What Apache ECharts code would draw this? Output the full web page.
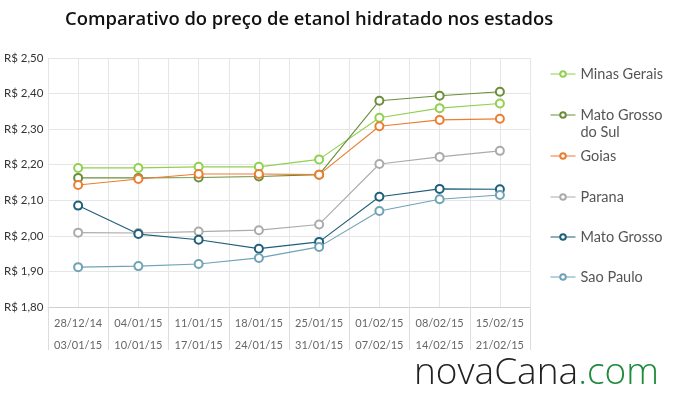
<!DOCTYPE html>
<html>
<head>
<meta charset="utf-8">
<script src="https://cdn.jsdelivr.net/npm/echarts@6/dist/echarts.min.js"></script>
<style>
  html, body { margin: 0; padding: 0; background: #fff; }
  #chart { width: 684px; height: 406px; }
</style>
</head>
<body>
<div id="chart"></div>
<script>
// semanas (início / fim)
var weekStart = ['28/12/14', '04/01/15', '11/01/15', '18/01/15', '25/01/15', '01/02/15', '08/02/15', '15/02/15'];
var weekEnd = ['03/01/15', '10/01/15', '17/01/15', '24/01/15', '31/01/15', '07/02/15', '14/02/15', '21/02/15'];

var minasGerais = [2.191, 2.191, 2.194, 2.194, 2.215, 2.332, 2.359, 2.372];
var matoGrossoDoSul = [2.163, 2.163, 2.164, 2.167, 2.172, 2.380, 2.394, 2.405];
var goias = [2.143, 2.160, 2.174, 2.174, 2.172, 2.308, 2.326, 2.329];
var parana = [2.009, 2.008, 2.012, 2.016, 2.032, 2.202, 2.222, 2.239];
var matoGrosso = [2.085, 2.005, 1.989, 1.964, 1.983, 2.110, 2.132, 2.131];
var saoPaulo = [1.912, 1.915, 1.921, 1.938, 1.969, 2.070, 2.103, 2.115];

var yMin = 1.8, yMax = 2.5, yStep = 0.1;

var chart = echarts.init(document.getElementById('chart'));

var categories = weekStart.map(function (s, i) { return s + '\n' + weekEnd[i]; });

function serie(name, data, color) {
  return {
    name: name,
    type: 'line',
    data: data,
    symbol: 'emptyCircle',
    symbolSize: 8,
    lineStyle: { width: 1.1, color: color },
    itemStyle: { color: color, borderWidth: 1.1 },
    emphasis: { disabled: true }
  };
}

var names = ['Minas Gerais', 'Mato Grosso do Sul', 'Goias', 'Parana', 'Mato Grosso', 'Sao Paulo'];
var legendTops = [65.5, 89.5, 147.5, 188.5, 228.5, 268.5];

var legends = names.map(function (n, i) {
  var lg = {
    data: [n],
    left: 550,
    top: legendTops[i],
    padding: 0,
    itemWidth: 25,
    itemHeight: 7,
    selectedMode: false,
    itemStyle: { borderWidth: 1 },
    lineStyle: { width: 1 },
    textStyle: { color: '#555', fontSize: 14.5, fontFamily: 'Lato', lineHeight: 17 }
  };
  if (n === 'Mato Grosso do Sul') {
    // linha vazia em cima para o ícone ficar alinhado com a primeira linha
    lg.formatter = function () { return '\u00a0\nMato Grosso\ndo Sul'; };
  }
  return lg;
});

var option = {
  animation: false,
  title: {
    text: 'Comparativo do preço de etanol hidratado nos estados',
    left: 60,
    top: 6,
    textStyle: { color: '#111', fontSize: 18.4, fontWeight: 600, fontFamily: 'Open Sans' }
  },
  legend: legends,
  grid: { left: 48, right: 154, top: 58, bottom: 99 },
  xAxis: [
    {
      type: 'category',
      data: categories,
      boundaryGap: true,
      axisLine: { lineStyle: { color: '#cfcfcf' } },
      axisTick: { show: true, interval: 0, length: 43, lineStyle: { color: '#dcdcdc' } },
      axisLabel: { color: '#666', fontSize: 11, fontFamily: 'Lato', lineHeight: 22, margin: 5, interval: 0 },
      splitLine: { show: false }
    },
    {
      // linhas verticais de meia semana
      type: 'value',
      min: 0,
      max: 16,
      interval: 1,
      position: 'top',
      axisLine: { show: false },
      axisTick: { show: false },
      axisLabel: { show: false },
      splitLine: { show: true, lineStyle: { color: '#e6e6e6' } }
    }
  ],
  yAxis: {
    type: 'value',
    min: yMin,
    max: yMax,
    interval: yStep,
    axisLine: { show: false },
    axisTick: { show: false },
    axisLabel: {
      align: 'left',
      margin: 44,
      color: '#333',
      fontSize: 11.5,
      fontFamily: 'Lato',
      formatter: function (v) { return 'R$ ' + v.toFixed(2).replace('.', ','); }
    },
    splitLine: { lineStyle: { color: '#e6e6e6' } }
  },
  graphic: [
    {
      type: 'text',
      left: 414,
      top: 355,
      style: {
        text: '{a|novaCana}{b|.com}',
        rich: {
          a: { fill: '#222', fontSize: 37, fontFamily: 'Open Sans', fontWeight: 300 },
          b: { fill: '#1e8a3c', fontSize: 37, fontFamily: 'Open Sans', fontWeight: 300 }
        }
      }
    }
  ],
  series: [
    serie('Minas Gerais', minasGerais, '#92d050'),
    serie('Mato Grosso do Sul', matoGrossoDoSul, '#6b8e3a'),
    serie('Goias', goias, '#ed7d31'),
    serie('Parana', parana, '#ababab'),
    serie('Mato Grosso', matoGrosso, '#1f5f7a'),
    serie('Sao Paulo', saoPaulo, '#6fa3b5')
  ]
};

chart.setOption(option);
</script>
</body>
</html>
